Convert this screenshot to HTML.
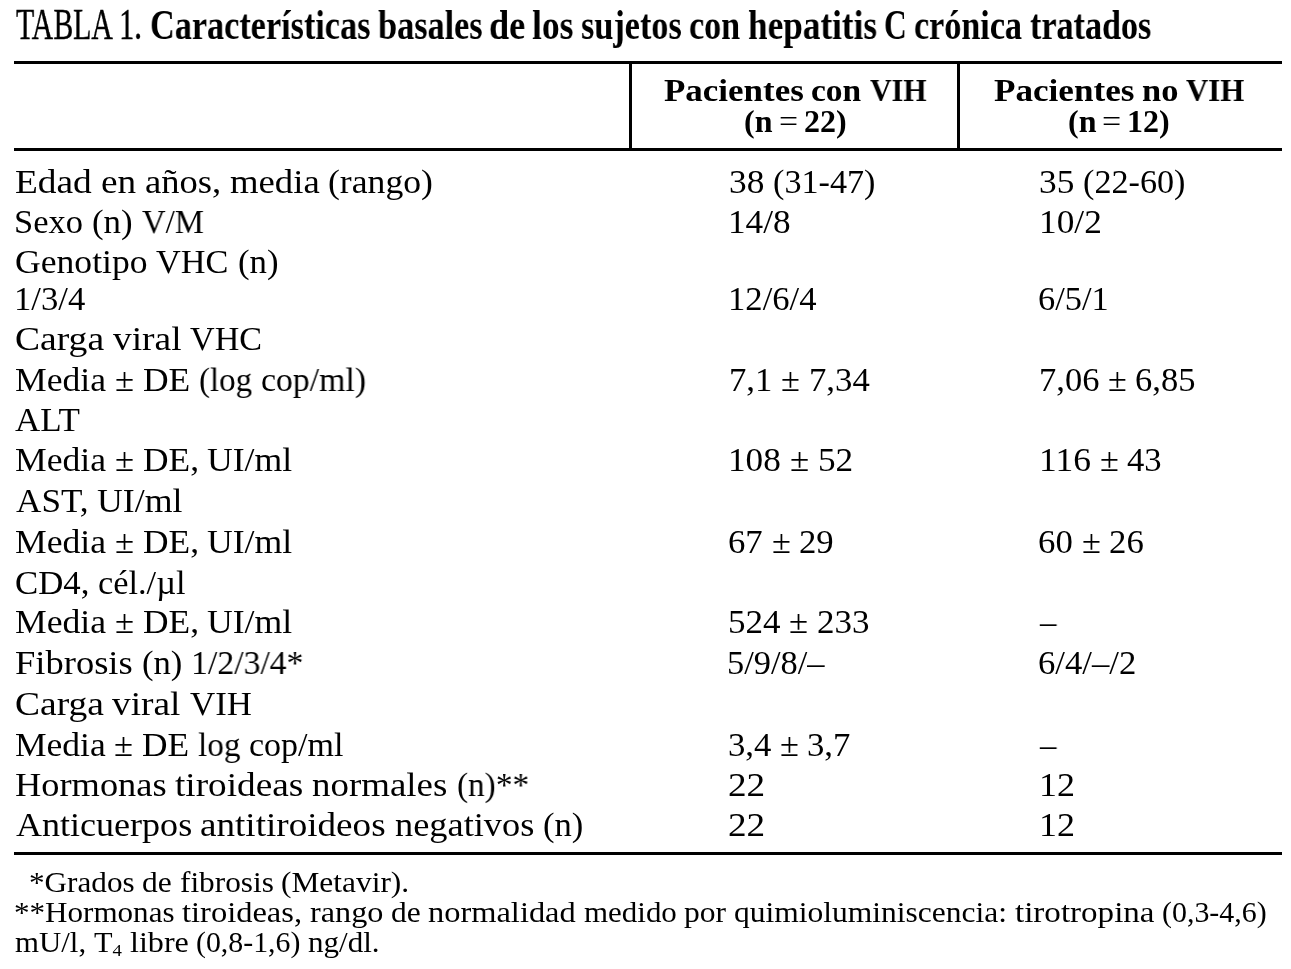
<!DOCTYPE html>
<html lang="es">
<head>
<meta charset="utf-8">
<title>TABLA 1</title>
<style>
html,body{margin:0;padding:0;background:#fff;font-family:"Liberation Serif",serif;}
body{width:1291px;height:969px;position:relative;overflow:hidden;color:#000;font-family:"Liberation Serif",serif;}
.x{position:absolute;display:block;white-space:nowrap;transform-origin:0 0;line-height:1;margin:0;padding:0;will-change:transform;}
.t1{font-size:44px;font-weight:400;-webkit-text-stroke:0.4px #000;}
.t2{font-size:42.5px;font-weight:700;}
.h{font-size:32px;font-weight:700;}
.hl{font-size:32px;font-weight:400;}
.b{font-size:34px;font-weight:400;}
.f{font-size:28.5px;font-weight:400;}
.f sub{font-size:62%;vertical-align:baseline;position:relative;top:0.2em;line-height:0;}
.r{position:absolute;background:#000;}
</style>
</head>
<body>
<div class="r" style="left:14px;top:61px;width:1268px;height:3px"></div>
<div class="r" style="left:14px;top:148px;width:1268px;height:3px"></div>
<div class="r" style="left:14px;top:852px;width:1268px;height:3px"></div>
<div class="r" style="left:629px;top:61px;width:3px;height:90px"></div>
<div class="r" style="left:957px;top:61px;width:3px;height:90px"></div>
<div class="title">
<span class="x t1" style="left:15.50px;top:2.65px;transform:scaleX(0.6766)">TABLA</span>
<span class="x t1" style="left:119.17px;top:2.65px;transform:scaleX(0.6922)">1.</span>
<span class="x t2" style="left:149.99px;top:4.21px;transform:scaleX(0.8053)">Características</span>
<span class="x t2" style="left:378.43px;top:4.21px;transform:scaleX(0.8055)">basales</span>
<span class="x t2" style="left:489.36px;top:4.21px;transform:scaleX(0.8490)">de</span>
<span class="x t2" style="left:532.35px;top:4.21px;transform:scaleX(0.8370)">los</span>
<span class="x t2" style="left:581.35px;top:4.21px;transform:scaleX(0.8055)">sujetos</span>
<span class="x t2" style="left:688.83px;top:4.21px;transform:scaleX(0.8030)">con</span>
<span class="x t2" style="left:747.89px;top:4.21px;transform:scaleX(0.8281)">hepatitis</span>
<span class="x t2" style="left:883.67px;top:4.21px;transform:scaleX(0.7408)">C</span>
<span class="x t2" style="left:914.32px;top:4.21px;transform:scaleX(0.8025)">crónica</span>
<span class="x t2" style="left:1029.95px;top:4.21px;transform:scaleX(0.8027)">tratados</span>
</div>
<div class="th th1">
<span class="x h" style="left:663.59px;top:74.40px;transform:scaleX(1.0926)">Pacientes</span>
<span class="x h" style="left:811.46px;top:74.40px;transform:scaleX(1.0461)">con</span>
<span class="x h" style="left:870.01px;top:74.40px;transform:scaleX(0.9370)">VIH</span>
<span class="x h" style="left:744.49px;top:104.70px;transform:scaleX(0.9918)">(n</span>
<span class="x hl" style="left:779.16px;top:104.70px;transform:scaleX(1.0566)">=</span>
<span class="x h" style="left:803.99px;top:104.70px;transform:scaleX(0.9979)">22)</span>
</div>
<div class="th th2">
<span class="x h" style="left:994.07px;top:74.40px;transform:scaleX(1.0976)">Pacientes</span>
<span class="x h" style="left:1142.35px;top:74.40px;transform:scaleX(1.0764)">no</span>
<span class="x h" style="left:1185.51px;top:74.40px;transform:scaleX(0.9640)">VIH</span>
<span class="x h" style="left:1068.01px;top:104.70px;transform:scaleX(0.9918)">(n</span>
<span class="x hl" style="left:1102.22px;top:104.70px;transform:scaleX(1.0624)">=</span>
<span class="x h" style="left:1127.25px;top:104.70px;transform:scaleX(0.9925)">12)</span>
</div>
<div class="row r1 lab">
<span class="x b" style="left:15.00px;top:165.02px;transform:scaleX(1.0995)">Edad</span>
<span class="x b" style="left:100.61px;top:165.02px;transform:scaleX(1.0960)">en</span>
<span class="x b" style="left:144.59px;top:165.02px;transform:scaleX(1.0764)">años,</span>
<span class="x b" style="left:229.63px;top:165.02px;transform:scaleX(1.0800)">media</span>
<span class="x b" style="left:328.16px;top:165.02px;transform:scaleX(1.0486)">(rango)</span>
</div>
<div class="row r2 lab">
<span class="x b" style="left:14.47px;top:205.02px;transform:scaleX(1.0143)">Sexo</span>
<span class="x b" style="left:92.30px;top:205.02px;transform:scaleX(1.0250)">(n)</span>
<span class="x b" style="left:141.79px;top:205.02px;transform:scaleX(0.9633)">V/M</span>
</div>
<div class="row r3 lab">
<span class="x b" style="left:14.95px;top:245.03px;transform:scaleX(1.0476)">Genotipo</span>
<span class="x b" style="left:156.36px;top:245.03px;transform:scaleX(1.0090)">VHC</span>
<span class="x b" style="left:237.65px;top:245.03px;transform:scaleX(1.0245)">(n)</span>
</div>
<div class="row r4 lab">
<span class="x b" style="left:14.44px;top:282.12px;transform:scaleX(1.0193)">1/3/4</span>
</div>
<div class="row r5 lab">
<span class="x b" style="left:14.66px;top:322.02px;transform:scaleX(1.1056)">Carga</span>
<span class="x b" style="left:112.54px;top:322.02px;transform:scaleX(1.1005)">viral</span>
<span class="x b" style="left:189.92px;top:322.02px;transform:scaleX(1.0036)">VHC</span>
</div>
<div class="row r6 lab">
<span class="x b" style="left:15.00px;top:362.53px;transform:scaleX(1.0483)">Media</span>
<span class="x b" style="left:114.81px;top:362.53px;transform:scaleX(1.0229)">±</span>
<span class="x b" style="left:142.68px;top:362.53px;transform:scaleX(1.0430)">DE</span>
<span class="x b" style="left:198.72px;top:362.53px;transform:scaleX(0.9695)">(log</span>
<span class="x b" style="left:260.59px;top:362.53px;transform:scaleX(0.9932)">cop/ml)</span>
</div>
<div class="row r7 lab">
<span class="x b" style="left:15.49px;top:402.52px;transform:scaleX(1.0308)">ALT</span>
</div>
<div class="row r8 lab">
<span class="x b" style="left:14.99px;top:443.03px;transform:scaleX(1.0475)">Media</span>
<span class="x b" style="left:114.74px;top:443.03px;transform:scaleX(1.0221)">±</span>
<span class="x b" style="left:142.58px;top:443.03px;transform:scaleX(1.0403)">DE,</span>
<span class="x b" style="left:207.33px;top:443.03px;transform:scaleX(1.0485)">UI/ml</span>
</div>
<div class="row r9 lab">
<span class="x b" style="left:15.50px;top:483.53px;transform:scaleX(1.0336)">AST,</span>
<span class="x b" style="left:96.86px;top:483.53px;transform:scaleX(1.0520)">UI/ml</span>
</div>
<div class="row r10 lab">
<span class="x b" style="left:14.99px;top:524.52px;transform:scaleX(1.0475)">Media</span>
<span class="x b" style="left:114.74px;top:524.52px;transform:scaleX(1.0221)">±</span>
<span class="x b" style="left:142.58px;top:524.52px;transform:scaleX(1.0403)">DE,</span>
<span class="x b" style="left:207.33px;top:524.52px;transform:scaleX(1.0485)">UI/ml</span>
</div>
<div class="row r11 lab">
<span class="x b" style="left:14.98px;top:566.03px;transform:scaleX(1.0239)">CD4,</span>
<span class="x b" style="left:98.32px;top:566.03px;transform:scaleX(1.0096)">cél./µl</span>
</div>
<div class="row r12 lab">
<span class="x b" style="left:14.99px;top:604.73px;transform:scaleX(1.0475)">Media</span>
<span class="x b" style="left:114.74px;top:604.73px;transform:scaleX(1.0221)">±</span>
<span class="x b" style="left:142.58px;top:604.73px;transform:scaleX(1.0403)">DE,</span>
<span class="x b" style="left:207.33px;top:604.73px;transform:scaleX(1.0485)">UI/ml</span>
</div>
<div class="row r13 lab">
<span class="x b" style="left:15.00px;top:645.52px;transform:scaleX(1.0742)">Fibrosis</span>
<span class="x b" style="left:141.51px;top:645.52px;transform:scaleX(1.0183)">(n)</span>
<span class="x b" style="left:190.68px;top:645.52px;transform:scaleX(0.9926)">1/2/3/4*</span>
</div>
<div class="row r14 lab">
<span class="x b" style="left:14.68px;top:686.53px;transform:scaleX(1.1035)">Carga</span>
<span class="x b" style="left:112.38px;top:686.53px;transform:scaleX(1.0984)">viral</span>
<span class="x b" style="left:189.61px;top:686.53px;transform:scaleX(1.0254)">VIH</span>
</div>
<div class="row r15 lab">
<span class="x b" style="left:15.00px;top:728.12px;transform:scaleX(1.0445)">Media</span>
<span class="x b" style="left:114.45px;top:728.12px;transform:scaleX(1.0192)">±</span>
<span class="x b" style="left:142.22px;top:728.12px;transform:scaleX(1.0392)">DE</span>
<span class="x b" style="left:198.05px;top:728.12px;transform:scaleX(0.9771)">log</span>
<span class="x b" style="left:249.24px;top:728.12px;transform:scaleX(0.9976)">cop/ml</span>
</div>
<div class="row r16 lab">
<span class="x b" style="left:15.00px;top:768.03px;transform:scaleX(1.0705)">Hormonas</span>
<span class="x b" style="left:175.43px;top:768.03px;transform:scaleX(1.0954)">tiroideas</span>
<span class="x b" style="left:312.46px;top:768.03px;transform:scaleX(1.0852)">normales</span>
<span class="x b" style="left:456.52px;top:768.03px;transform:scaleX(0.9775)">(n)**</span>
</div>
<div class="row r17 lab">
<span class="x b" style="left:15.50px;top:808.02px;transform:scaleX(1.0601)">Anticuerpos</span>
<span class="x b" style="left:200.46px;top:808.02px;transform:scaleX(1.0920)">antitiroideos</span>
<span class="x b" style="left:394.85px;top:808.02px;transform:scaleX(1.0693)">negativos</span>
<span class="x b" style="left:542.99px;top:808.02px;transform:scaleX(1.0180)">(n)</span>
</div>
<div class="row r1 c1">
<span class="x b" style="left:728.55px;top:165.02px;transform:scaleX(1.0400)">38</span>
<span class="x b" style="left:772.75px;top:165.02px;transform:scaleX(1.0051)">(31-47)</span>
</div>
<div class="row r2 c1">
<span class="x b" style="left:728.40px;top:205.02px;transform:scaleX(1.0347)">14/8</span>
</div>
<div class="row r4 c1">
<span class="x b" style="left:728.45px;top:282.12px;transform:scaleX(1.0184)">12/6/4</span>
</div>
<div class="row r6 c1">
<span class="x b" style="left:728.95px;top:362.53px;transform:scaleX(1.0216)">7,1</span>
<span class="x b" style="left:781.06px;top:362.53px;transform:scaleX(1.0138)">±</span>
<span class="x b" style="left:808.67px;top:362.53px;transform:scaleX(1.0216)">7,34</span>
</div>
<div class="row r8 c1">
<span class="x b" style="left:727.92px;top:443.03px;transform:scaleX(1.0360)">108</span>
<span class="x b" style="left:789.56px;top:443.03px;transform:scaleX(1.0280)">±</span>
<span class="x b" style="left:817.56px;top:443.03px;transform:scaleX(1.0360)">52</span>
</div>
<div class="row r10 c1">
<span class="x b" style="left:728.27px;top:524.52px;transform:scaleX(1.0213)">67</span>
<span class="x b" style="left:771.67px;top:524.52px;transform:scaleX(1.0134)">±</span>
<span class="x b" style="left:799.27px;top:524.52px;transform:scaleX(1.0213)">29</span>
</div>
<div class="row r12 c1">
<span class="x b" style="left:727.96px;top:604.73px;transform:scaleX(1.0301)">524</span>
<span class="x b" style="left:789.25px;top:604.73px;transform:scaleX(1.0222)">±</span>
<span class="x b" style="left:817.09px;top:604.73px;transform:scaleX(1.0301)">233</span>
</div>
<div class="row r13 c1">
<span class="x b" style="left:727.47px;top:645.52px;transform:scaleX(1.0125)">5/9/8/–</span>
</div>
<div class="row r15 c1">
<span class="x b" style="left:727.74px;top:728.12px;transform:scaleX(1.0216)">3,4</span>
<span class="x b" style="left:779.84px;top:728.12px;transform:scaleX(1.0137)">±</span>
<span class="x b" style="left:807.45px;top:728.12px;transform:scaleX(1.0216)">3,7</span>
</div>
<div class="row r16 c1">
<span class="x b" style="left:728.43px;top:768.03px;transform:scaleX(1.0943)">22</span>
</div>
<div class="row r17 c1">
<span class="x b" style="left:728.43px;top:808.02px;transform:scaleX(1.0943)">22</span>
</div>
<div class="row r1 c2">
<span class="x b" style="left:1038.55px;top:165.02px;transform:scaleX(1.0400)">35</span>
<span class="x b" style="left:1082.75px;top:165.02px;transform:scaleX(1.0051)">(22-60)</span>
</div>
<div class="row r2 c2">
<span class="x b" style="left:1038.88px;top:205.02px;transform:scaleX(1.0395)">10/2</span>
</div>
<div class="row r4 c2">
<span class="x b" style="left:1038.38px;top:282.12px;transform:scaleX(1.0117)">6/5/1</span>
</div>
<div class="row r6 c2">
<span class="x b" style="left:1038.97px;top:362.53px;transform:scaleX(1.0148)">7,06</span>
<span class="x b" style="left:1107.98px;top:362.53px;transform:scaleX(1.0070)">±</span>
<span class="x b" style="left:1135.40px;top:362.53px;transform:scaleX(1.0148)">6,85</span>
</div>
<div class="row r8 c2">
<span class="x b" style="left:1038.89px;top:443.03px;transform:scaleX(1.0453)">116</span>
<span class="x b" style="left:1099.56px;top:443.03px;transform:scaleX(1.0119)">±</span>
<span class="x b" style="left:1127.12px;top:443.03px;transform:scaleX(1.0197)">43</span>
</div>
<div class="row r10 c2">
<span class="x b" style="left:1038.27px;top:524.52px;transform:scaleX(1.0229)">60</span>
<span class="x b" style="left:1081.75px;top:524.52px;transform:scaleX(1.0151)">±</span>
<span class="x b" style="left:1109.40px;top:524.52px;transform:scaleX(1.0229)">26</span>
</div>
<div class="row r12 c2">
<span class="x b" style="left:1039.81px;top:604.73px;transform:scaleX(0.9644)">–</span>
</div>
<div class="row r13 c2">
<span class="x b" style="left:1038.31px;top:645.52px;transform:scaleX(1.0201)">6/4/–/2</span>
</div>
<div class="row r15 c2">
<span class="x b" style="left:1039.81px;top:728.12px;transform:scaleX(0.9644)">–</span>
</div>
<div class="row r16 c2">
<span class="x b" style="left:1038.81px;top:768.03px;transform:scaleX(1.0584)">12</span>
</div>
<div class="row r17 c2">
<span class="x b" style="left:1038.81px;top:808.02px;transform:scaleX(1.0584)">12</span>
</div>
<div class="foot">
<span class="x f" style="left:28.88px;top:868.63px;transform:scaleX(1.0937)">*Grados</span>
<span class="x f" style="left:142.20px;top:868.63px;transform:scaleX(1.1051)">de</span>
<span class="x f" style="left:179.63px;top:868.63px;transform:scaleX(1.0974)">fibrosis</span>
<span class="x f" style="left:281.16px;top:868.63px;transform:scaleX(1.1017)">(Metavir).</span>
<span class="x f" style="left:13.90px;top:899.33px;transform:scaleX(1.0903)">**Hormonas</span>
<span class="x f" style="left:182.14px;top:899.33px;transform:scaleX(1.1404)">tiroideas,</span>
<span class="x f" style="left:309.88px;top:899.33px;transform:scaleX(1.1303)">rango</span>
<span class="x f" style="left:390.92px;top:899.33px;transform:scaleX(1.1056)">de</span>
<span class="x f" style="left:428.37px;top:899.33px;transform:scaleX(1.1382)">normalidad</span>
<span class="x f" style="left:583.81px;top:899.33px;transform:scaleX(1.0859)">medido</span>
<span class="x f" style="left:684.36px;top:899.33px;transform:scaleX(1.1065)">por</span>
<span class="x f" style="left:734.10px;top:899.33px;transform:scaleX(1.1050)">quimioluminiscencia:</span>
<span class="x f" style="left:1014.71px;top:899.33px;transform:scaleX(1.1596)">tirotropina</span>
<span class="x f" style="left:1161.92px;top:899.33px;transform:scaleX(1.0495)">(0,3-4,6)</span>
<span class="x f" style="left:15.11px;top:928.73px;transform:scaleX(1.0825)">mU/l,</span>
<span class="x f" style="left:93.93px;top:928.73px;transform:scaleX(1.0651)">T<sub>4</sub></span>
<span class="x f" style="left:129.57px;top:928.73px;transform:scaleX(1.1266)">libre</span>
<span class="x f" style="left:196.10px;top:928.73px;transform:scaleX(1.0468)">(0,8-1,6)</span>
<span class="x f" style="left:308.18px;top:928.73px;transform:scaleX(1.0901)">ng/dl.</span>
</div>
</body>
</html>
